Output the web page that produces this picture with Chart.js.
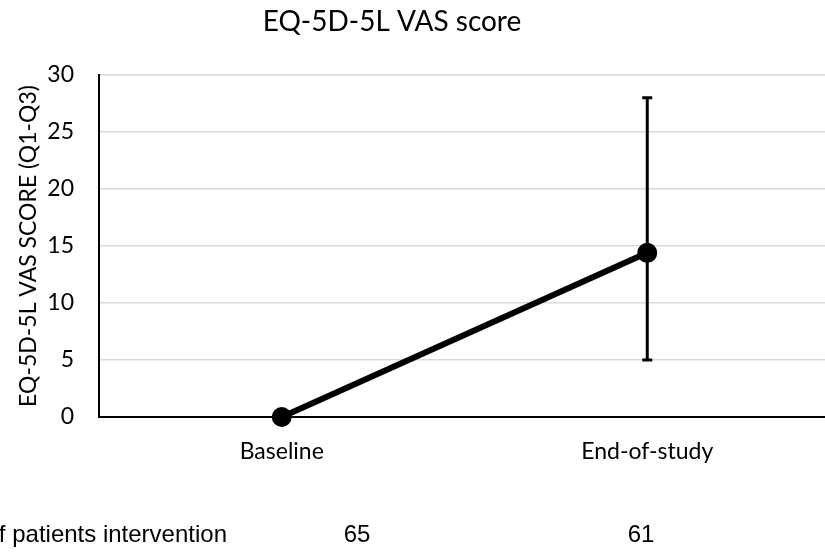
<!DOCTYPE html>
<html>
<head>
<meta charset="utf-8">
<title>EQ-5D-5L VAS score</title>
<script src="https://cdn.jsdelivr.net/npm/chart.js@4.4.1/dist/chart.umd.min.js"></script>
<style>
  html, body { margin: 0; padding: 0; background: #fff; overflow: hidden; }
  #wrap { width: 825px; height: 552px; overflow: hidden; }
</style>
</head>
<body>
<div id="wrap"><canvas id="vas-chart" width="832" height="552"></canvas></div>
<script>
// values
const categories = ["Baseline", "End-of-study"];
const vasScore = [0, 14.4];
const q1Values = [0, 5];
const q3Values = [0, 28];
const patientCounts = [65, 61];
const patientRowLabel = "No. of patients intervention";
const chartTitle = "EQ-5D-5L VAS score";
const yAxisTitle = "EQ-5D-5L VAS SCORE (Q1-Q3)";

const FONT = "Lato, 'Liberation Sans', sans-serif";
const TEXT_COLOR = "#000";

// whiskers for Q1-Q3, drawn under the markers
const errorBars = {
    id: "errorBars",
    beforeDatasetsDraw(chart) {
        const ctx = chart.ctx;
        const x = chart.scales.x;
        const y = chart.scales.y;
        ctx.save();
        ctx.strokeStyle = "#000";
        ctx.lineWidth = 3;
        q1Values.forEach((lo, i) => {
            const hi = q3Values[i];
            if (lo === hi) return;
            const px = x.getPixelForValue(i);
            const yLo = y.getPixelForValue(lo);
            const yHi = y.getPixelForValue(hi);
            ctx.beginPath();
            ctx.moveTo(px, yLo);
            ctx.lineTo(px, yHi);
            ctx.moveTo(px - 5, yLo);
            ctx.lineTo(px + 5, yLo);
            ctx.moveTo(px - 5, yHi);
            ctx.lineTo(px + 5, yHi);
            ctx.stroke();
        });
        ctx.restore();
    }
};

// title and the patient-count row under the chart
const extraText = {
    id: "extraText",
    afterDraw(chart) {
        const ctx = chart.ctx;
        ctx.save();
        ctx.fillStyle = TEXT_COLOR;
        ctx.textBaseline = "middle";

        ctx.font = "28px " + FONT;
        ctx.textAlign = "center";
        ctx.fillText(chartTitle, 392, 22);

        ctx.font = "24px 'Liberation Sans', Arial, sans-serif";
        ctx.textAlign = "right";
        ctx.fillText(patientRowLabel, 227, 535);
        ctx.textAlign = "center";
        const countX = [357, 641];
        patientCounts.forEach((n, i) => ctx.fillText(String(n), countX[i], 535));
        ctx.restore();
    }
};

new Chart(document.getElementById("vas-chart"), {
    type: "line",
    data: {
        labels: categories,
        datasets: [{
            label: "VAS score",
            data: vasScore,
            borderColor: "#000",
            backgroundColor: "#000",
            borderWidth: 6,
            pointRadius: 9,
            pointBorderWidth: 2,
            pointBackgroundColor: "#000",
            pointBorderColor: "#000",
            tension: 0,
            clip: false
        }]
    },
    options: {
        responsive: false,
        animation: false,
        events: [],
        layout: { autoPadding: false, padding: { top: 75, right: 2, left: 0, bottom: 0 } },
        plugins: {
            legend: { display: false },
            tooltip: { enabled: false },
            title: { display: false }
        },
        scales: {
            x: {
                offset: true,
                grid: { display: false },
                border: { display: true, color: "#000", width: 2 },
                ticks: {
                    color: TEXT_COLOR,
                    padding: 13,
                    font: { family: FONT, size: 23 }
                },
                afterFit(scale) { scale.height = 135; }
            },
            y: {
                min: 0,
                max: 30,
                ticks: {
                    stepSize: 5,
                    color: TEXT_COLOR,
                    padding: 25,
                    font: { family: FONT, size: 23 }
                },
                grid: { color: "#d9d9d9", lineWidth: 1.5, drawTicks: false },
                border: { display: true, color: "#000", width: 2 },
                title: {
                    display: true,
                    text: yAxisTitle,
                    color: TEXT_COLOR,
                    padding: { top: 15, bottom: 0 },
                    font: { family: FONT, size: 23 }
                },
                afterFit(scale) { scale.width = 99; }
            }
        }
    },
    plugins: [errorBars, extraText]
});
</script>
</body>
</html>
